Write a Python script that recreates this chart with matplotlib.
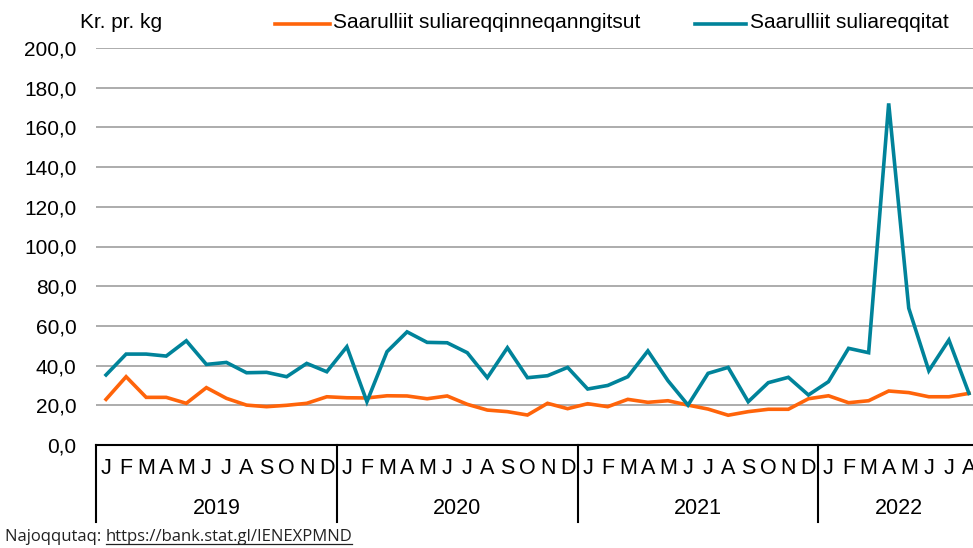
import matplotlib
matplotlib.use("Agg")
import matplotlib.pyplot as plt
from matplotlib.lines import Line2D
import matplotlib.transforms as mtransforms

plt.rcParams["font.family"] = ["Liberation Sans", "DejaVu Sans"]

YEARS = ["2019", "2020", "2021", "2022"]
MONTHS = ["J", "F", "M", "A", "M", "J", "J", "A", "S", "O", "N", "D"]
N_MONTHS = [12, 12, 12, 8]

# Kr. pr. kg, jan 2019 - aug 2022
ikke_forarb = [23.0, 34.4, 24.0, 24.0, 21.0, 28.9, 23.5, 20.1, 19.3, 20.0, 21.0, 24.3,
               23.8, 23.7, 24.8, 24.7, 23.3, 24.7, 20.5, 17.6, 16.8, 15.1, 21.0, 18.3,
               20.8, 19.3, 23.0, 21.5, 22.3, 20.1, 18.1, 15.0, 16.8, 18.0, 18.0, 23.3,
               24.8, 21.3, 22.3, 27.2, 26.4, 24.3, 24.3, 26.0]
forarb = [35.3, 45.8, 45.8, 44.8, 52.5, 40.6, 41.6, 36.4, 36.6, 34.4, 41.1, 36.9,
          49.5, 21.8, 47.0, 57.0, 51.7, 51.5, 46.5, 33.9, 49.0, 33.9, 34.9, 39.1,
          28.2, 30.0, 34.4, 47.4, 32.4, 20.1, 36.1, 39.1, 21.8, 31.4, 34.1, 25.2,
          31.9, 48.7, 46.5, 172.1, 68.9, 37.4, 52.9, 26.0]
LABELS = ["Saarulliit suliareqqinneqanngitsut", "Saarulliit suliareqqitat"]
ORANGE, TEAL = "#FF640A", "#00839A"

W, H = 973, 548
fig = plt.figure(figsize=(W / 100, H / 100), dpi=100)
ax = fig.add_axes([96 / W, (H - 445) / H, 883 / W, 397 / H])

x = list(range(len(forarb)))
ax.plot(x, ikke_forarb, color=ORANGE, lw=2.6, solid_joinstyle="miter", clip_on=False, zorder=3)
ax.plot(x, forarb, color=TEAL, lw=2.6, solid_joinstyle="miter", clip_on=False, zorder=3)

ax.set_xlim(-0.5, len(x) - 0.5)
ax.set_ylim(0, 200)
ax.set_yticks(range(0, 201, 20))
ax.set_yticklabels([f"{v:.1f}".replace(".", ",") for v in range(0, 201, 20)], fontsize=15)
ax.tick_params(axis="y", length=0, pad=14)
ax.set_xticks([])
ax.grid(axis="y", color="#A6A6A6", lw=1.3)
ax.set_axisbelow(True)
for s in ["left", "right", "top"]:
    ax.spines[s].set_visible(False)
ax.spines["bottom"].set_color("black")
ax.spines["bottom"].set_linewidth(1.5)

# kategori-akse: måneder og år
tr = mtransforms.blended_transform_factory(ax.transData, ax.transAxes)
px = 1 / 397  # axes-enheder pr. pixel i y
start = 0
for yr, n in zip(YEARS, N_MONTHS):
    for k in range(n):
        ax.text(start + k, -24 * px, MONTHS[k], transform=tr, ha="center", va="center",
                fontsize=15.5, clip_on=False)
    ax.text(start + (n - 1) / 2, -63 * px, yr, transform=tr, ha="center", va="center",
            fontsize=15.5, clip_on=False)
    ax.add_line(Line2D([start - 0.5, start - 0.5], [0, -77 * px], transform=tr,
                       color="black", lw=1.5, clip_on=False))
    start += n

fig.text(80 / W, 1 - 22 / H, "Kr. pr. kg", fontsize=15, ha="left", va="center")

# legende
for (x0, x1, tx), lab, col in zip([(275, 330, 333), (695, 746, 750)], LABELS, [ORANGE, TEAL]):
    fig.add_artist(Line2D([x0 / W, x1 / W], [1 - 24 / H] * 2, color=col, lw=2.6))
    fig.text(tx / W, 1 - 23 / H, lab, fontsize=15, ha="left", va="center")

t1 = fig.text(5 / W, 1 - 537 / H, "Najoqqutaq: ", fontsize=12, family="Open Sans",
              ha="left", va="center", color="#222222")
fig.canvas.draw()
r = fig.canvas.get_renderer()
bb = t1.get_window_extent(r)
t2 = fig.text(bb.x1 / W, 1 - 537 / H, "https://bank.stat.gl/IENEXPMND", fontsize=12,
              family="Open Sans", ha="left", va="center", color="#222222")
bb2 = t2.get_window_extent(r)
fig.add_artist(Line2D([bb2.x0 / W, bb2.x1 / W], [(bb2.y0 + 1) / H] * 2, color="#222222", lw=0.9))

fig.savefig("out.png", dpi=100)
